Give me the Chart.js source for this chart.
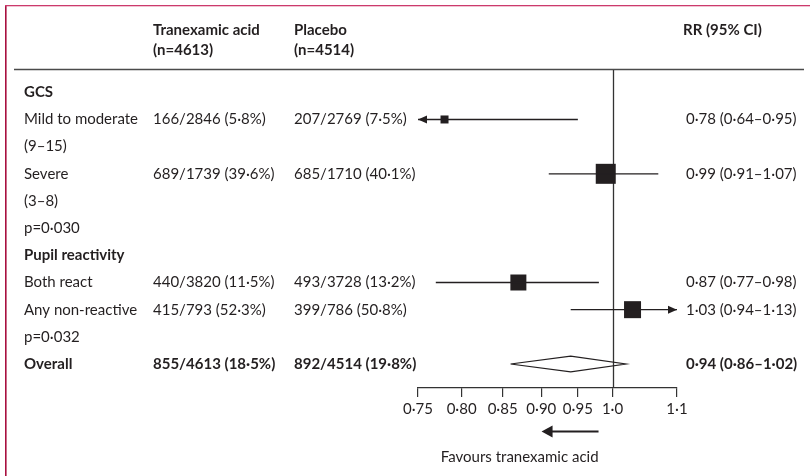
<!DOCTYPE html>
<html><head><meta charset="utf-8">
<script src="https://cdn.jsdelivr.net/npm/chart.js@4.4.1/dist/chart.umd.min.js"></script>
<style>html,body{margin:0;padding:0;background:#fff}#wrap{position:relative;width:810px;height:476px}</style>
</head><body><div id="wrap"><canvas id="c"></canvas></div>
<script>
// ---- data ----
const rowLabels = ['GCS','Mild to moderate','(9–15)','Severe','(3–8)','p=0·030','Pupil reactivity','Both react','Any non-reactive','p=0·032','Overall'];
const boldRows = [0, 6, 10];
const txaText = ['','166/2846 (5·8%)','','689/1739 (39·6%)','','','','440/3820 (11·5%)','415/793 (52·3%)','','855/4613 (18·5%)'];
const plcText = ['','207/2769 (7·5%)','','685/1710 (40·1%)','','','','493/3728 (13·2%)','399/786 (50·8%)','','892/4514 (19·8%)'];
const rrRows = [1, 3, 7, 8, 10];
const rrEst  = [0.78, 0.99, 0.87, 1.03, 0.94];
const rrLow  = [0.64, 0.91, 0.77, 0.94, 0.86];
const rrHigh = [0.95, 1.07, 0.98, 1.13, 1.02];
const overallIndex = 4;
const tickValues = [0.75, 0.80, 0.85, 0.90, 0.95, 1.0, 1.1];
const tickLabels = ['0·75','0·80','0·85','0·90','0·95','1·0','1·1'];
const headTxa = ['Tranexamic acid','(n=4613)'];
const headPlc = ['Placebo','(n=4514)'];
const headRR = 'RR (95% CI)';
const favoursText = 'Favours tranexamic acid';

// ---- style ----
const INK = '#231f20';
const FONT = 'Lato';
const FS = 15;
const boxSide = [8, 20, 16, 17];
const colX = {label: 24, txa: 153, plc: 294, rr: 686, rrHead: 683};

function fmt(v){ return v.toFixed(2).replace('.', '·'); }

const datasets = [];
rrRows.forEach((r, i) => {
  if (i === overallIndex) return;
  datasets.push({
    type: 'scatter', showLine: true, data: [{x: rrLow[i], y: r}, {x: rrHigh[i], y: r}],
    borderColor: INK, borderWidth: 1.3, pointRadius: 0, pointHoverRadius: 0
  });
});
datasets.push({
  type: 'scatter',
  data: rrRows.slice(0, overallIndex).map((r, i) => ({x: rrEst[i], y: r})),
  pointStyle: 'rect',
  pointRadius: boxSide.map(s => s / (2 * Math.SQRT1_2)),
  pointHoverRadius: boxSide.map(s => s / (2 * Math.SQRT1_2)),
  backgroundColor: INK, borderColor: INK, borderWidth: 0
});
const dh = 0.29;
const oy = rrRows[overallIndex];
datasets.push({
  type: 'scatter', showLine: true, fill: false, tension: 0,
  data: [
    {x: rrLow[overallIndex], y: oy}, {x: rrEst[overallIndex], y: oy - dh},
    {x: rrHigh[overallIndex], y: oy}, {x: rrEst[overallIndex], y: oy + dh},
    {x: rrLow[overallIndex], y: oy}
  ],
  borderColor: INK, borderWidth: 1.2, pointRadius: 0, pointHoverRadius: 0, clip: false
});

const deco = {
  id: 'deco',
  beforeDatasetsDraw(chart) {
    const ctx = chart.ctx, xs = chart.scales.x, a = chart.chartArea;
    ctx.save();
    // frame
    ctx.fillStyle = '#a8103f'; ctx.fillRect(5, 5, 1.6, 471);
    ctx.fillStyle = '#cc3a6c'; ctx.fillRect(5, 5, 805, 1.3);
    // separator
    ctx.strokeStyle = '#4a4a4a'; ctx.lineWidth = 1.5;
    ctx.beginPath(); ctx.moveTo(14, 69.5); ctx.lineTo(804, 69.5); ctx.stroke();
    // reference line at 1
    const x1 = Math.round(xs.getPixelForValue(1)) + 0.5;
    ctx.strokeStyle = '#333'; ctx.lineWidth = 1.3;
    ctx.beginPath(); ctx.moveTo(x1, a.top); ctx.lineTo(x1, a.bottom); ctx.stroke();
    ctx.restore();
  },
  afterDraw(chart) {
    const ctx = chart.ctx, xs = chart.scales.x, ys = chart.scales.y;
    ctx.save();
    ctx.fillStyle = INK; ctx.textBaseline = 'middle'; ctx.textAlign = 'left';
    // headers
    ctx.font = `bold ${FS}px ${FONT}`;
    ctx.fillText(headTxa[0], colX.txa, 30); ctx.fillText(headPlc[0], colX.plc, 30); ctx.fillText(headRR, colX.rrHead, 30);
    ctx.fillText(headTxa[1], colX.txa, 50); ctx.fillText(headPlc[1], colX.plc, 50);
    // rows
    rowLabels.forEach((lab, r) => {
      const y = ys.getPixelForValue(r);
      ctx.font = (boldRows.includes(r) ? 'bold ' : '') + `${FS}px ${FONT}`;
      ctx.fillText(lab, colX.label, y);
      ctx.font = (r === 10 ? 'bold ' : '') + `${FS}px ${FONT}`;
      if (txaText[r]) ctx.fillText(txaText[r], colX.txa, y);
      if (plcText[r]) ctx.fillText(plcText[r], colX.plc, y);
    });
    rrRows.forEach((r, i) => {
      const y = ys.getPixelForValue(r);
      ctx.font = (i === overallIndex ? 'bold ' : '') + `${FS}px ${FONT}`;
      ctx.fillText(`${fmt(rrEst[i])} (${fmt(rrLow[i])}–${fmt(rrHigh[i])})`, colX.rr, y);
      // arrows for clipped CIs
      if (i !== overallIndex) {
        if (rrLow[i] < xs.min) {
          const t = xs.getPixelForValue(xs.min);
          ctx.beginPath(); ctx.moveTo(t, y); ctx.lineTo(t + 9, y - 4); ctx.lineTo(t + 9, y + 4); ctx.closePath(); ctx.fill();
        }
        if (rrHigh[i] > xs.max) {
          const t = xs.getPixelForValue(xs.max);
          ctx.beginPath(); ctx.moveTo(t, y); ctx.lineTo(t - 9, y - 4); ctx.lineTo(t - 9, y + 4); ctx.closePath(); ctx.fill();
        }
      }
    });
    // favours arrow
    const p1 = xs.getPixelForValue(1);
    const ay = 431.5;
    ctx.strokeStyle = INK; ctx.lineWidth = 2;
    ctx.beginPath(); ctx.moveTo(p1 - 14, ay); ctx.lineTo(p1 - 62, ay); ctx.stroke();
    ctx.beginPath(); ctx.moveTo(p1 - 71, ay); ctx.lineTo(p1 - 60, ay - 6); ctx.lineTo(p1 - 60, ay + 6); ctx.closePath(); ctx.fill();
    ctx.font = `${FS}px ${FONT}`; ctx.textAlign = 'right';
    ctx.fillText(favoursText, p1 - 14, 457);
    ctx.restore();
  }
};

new Chart(document.getElementById('c'), {
  type: 'scatter',
  data: {datasets},
  plugins: [deco],
  options: {
    responsive: true, maintainAspectRatio: false, animation: false,
    events: [],
    layout: {padding: {left: 418, right: 133, top: 70, bottom: 0}},
    plugins: {legend: {display: false}, tooltip: {enabled: false}},
    scales: {
      x: {
        type: 'logarithmic', min: 0.75, max: 1.1, position: 'bottom',
        afterBuildTicks: s => { s.ticks = tickValues.map(v => ({value: v})); },
        afterFit: s => { s.height = 88; },
        ticks: {autoSkip: false, maxRotation: 0, minRotation: 0, padding: 3, color: INK,
          font: {family: FONT, size: FS}, callback: (v, i) => tickLabels[i]},
        grid: {drawOnChartArea: false, drawTicks: true, tickLength: 9, color: '#333', lineWidth: 1.2},
        border: {display: true, color: '#333', width: 1.3}
      },
      y: {type: 'linear', min: -0.821, max: 10.883, reverse: true, display: false}
    }
  }
});
</script></body></html>
